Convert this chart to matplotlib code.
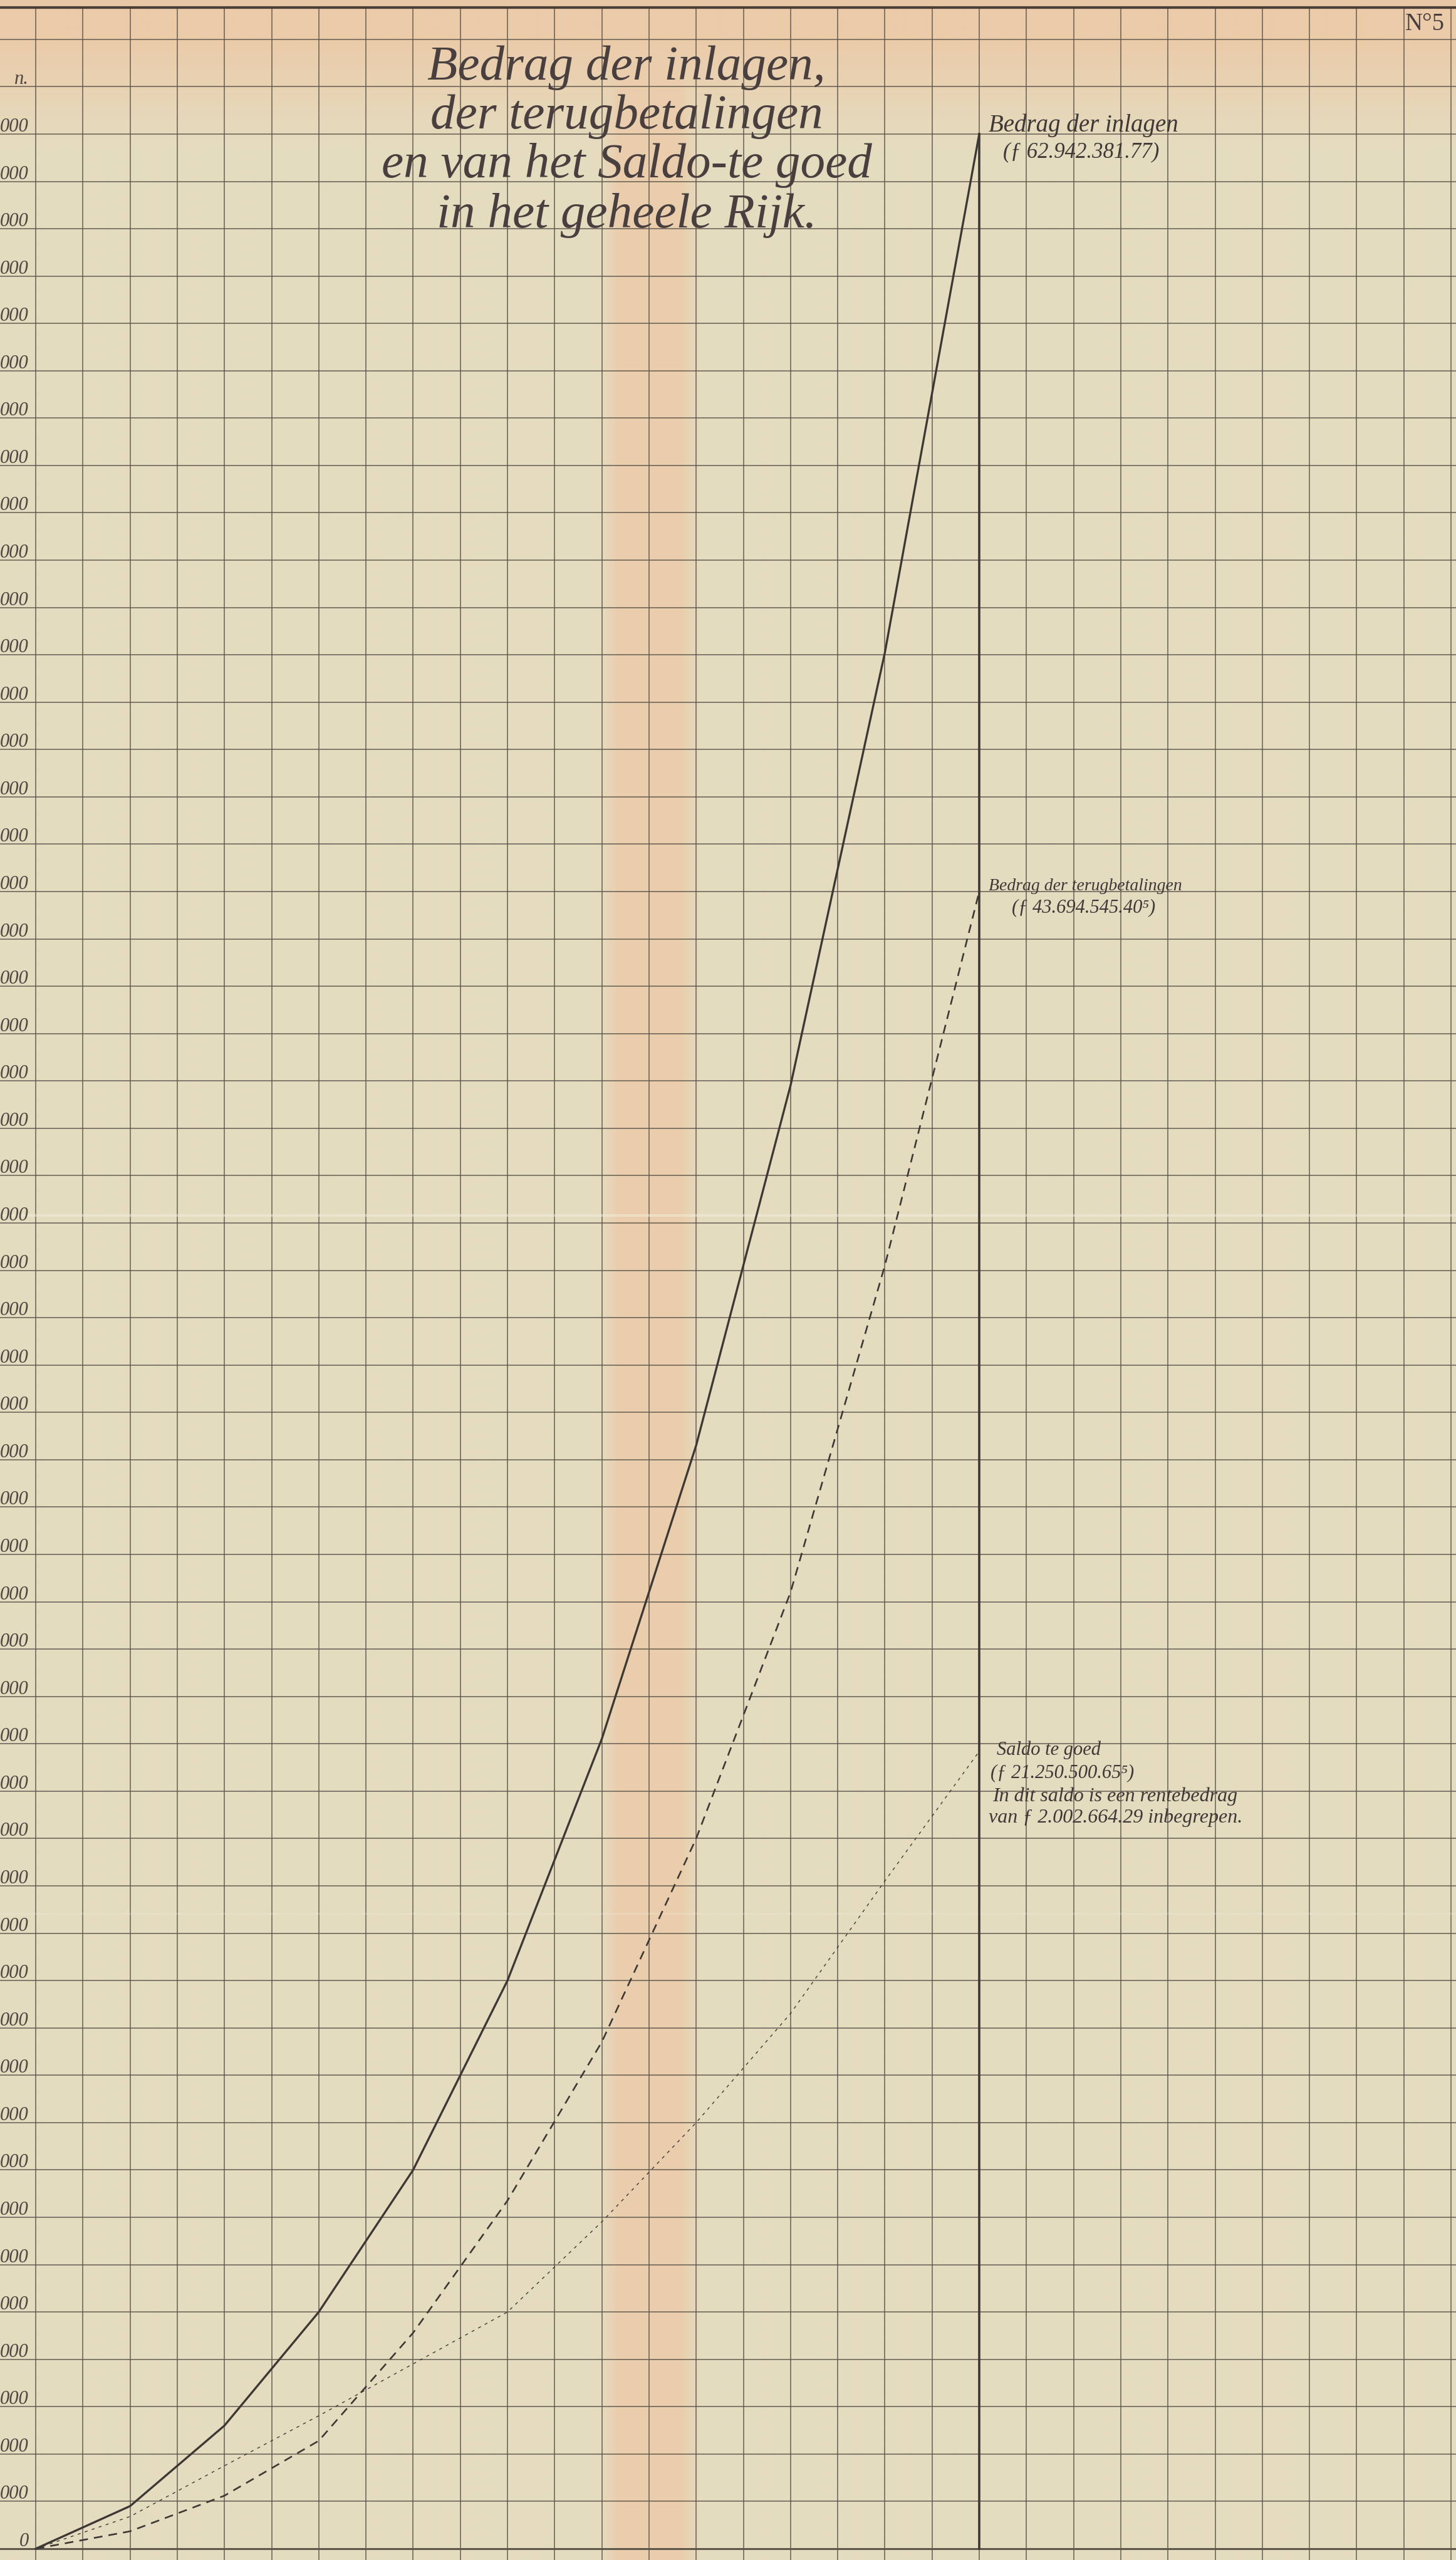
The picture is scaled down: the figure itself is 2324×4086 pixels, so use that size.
import numpy as np
import matplotlib
matplotlib.use('Agg')
import matplotlib.pyplot as plt
import matplotlib.transforms as mtransforms

jaren = [1881, 1882, 1883, 1884, 1885, 1886, 1887, 1888, 1889, 1890, 1891]
inlagen = [0, 1125000, 3250000, 6250000, 10000000, 15000000,
           21380000, 29130000, 38630000, 50060000, 63750000]
terugbetalingen = [0, 460000, 1400000, 2850000, 5700000, 9190000,
                   13380000, 18750000, 25250000, 33880000, 43750000]
saldo = [0, 850000, 2190000, 3510000, 4880000, 6250000,
         8630000, 11250000, 14130000, 17630000, 21050000]

stap = 1250000
n_rijen = 53          # horizontale lijnen 0..53
n_kolommen = 30       # verticale lijnen per half jaar

# only the right end of the scale labels is left on the cut sheet
schaal_labels = ['0'] + ['000'] * 51 + ['n.']

titel = ["Bedrag der inlagen,", "der terugbetalingen",
         "en van het Saldo-te goed", "in het geheele Rijk."]

# colours of the old paper
papier = '#E5DCC0'
roze = '#EBCBA9'
lijnkleur = '#5E554B'
inkt = '#3E3834'

W, H = 2324, 4086
fig = plt.figure(figsize=(W / 100, H / 100), dpi=100, facecolor='#E8C8A4')
ax = fig.add_axes([0, 0, 1, (H - 12) / H])

# axis limits chosen so one cell is ~75 px
x_links = jaren[0] - (57 / 75.3) * 0.5
x_rechts = jaren[0] + ((W - 57) / 75.3) * 0.5
y_onder = -(H - 4068) / 75.57 * stap
y_boven = (4068 - 12) / 75.57 * stap
ax.set_xlim(x_links, x_rechts)
ax.set_ylim(y_onder, y_boven)

# background: beige paper, pink stripe and pink top edge
yy, xx = np.mgrid[12:H:6, 0:W:6].astype(float)
w_strook = np.clip(1 - (np.abs(xx - 1036) - 50) / 30, 0, 1) * 0.85
w_top = np.clip((230 - yy) / 170, 0, 1)
w = np.maximum(w_strook, w_top)[..., None]
c0 = np.array(matplotlib.colors.to_rgb(papier))
c1 = np.array(matplotlib.colors.to_rgb(roze))
bg = c0 * (1 - w) + c1 * w
ax.imshow(bg, extent=(x_links, x_rechts, y_onder, y_boven), origin='upper',
          aspect='auto', interpolation='bilinear', zorder=0)

# the grid
ax.set_xticks(np.arange(jaren[0], jaren[0] + n_kolommen / 2 + 0.01, 0.5))
ax.set_yticks(np.arange(0, n_rijen + 1) * stap)
ax.grid(True, color=lijnkleur, linewidth=1.15, alpha=0.9)
ax.set_axisbelow(True)
ax.tick_params(length=0, labelbottom=False, labelleft=False)
for kant in ['left', 'right', 'bottom']:
    ax.spines[kant].set_visible(False)
ax.spines['top'].set_linewidth(3.0)
ax.spines['top'].set_color('#4a4038')
ax.axhline(0, color=lijnkleur, linewidth=2.2, zorder=1)

# paper fold
ax.axhline(28.16 * stap, color='#F4EEDC', linewidth=3, alpha=0.5, zorder=0.6)
ax.axhline(13.42 * stap, color='#F4EEDC', linewidth=2, alpha=0.25, zorder=0.6)

# the three curves
plt.rcParams['lines.scale_dashes'] = False
ax.plot(jaren, inlagen, color=inkt, linewidth=2.4, zorder=3)
ax.plot(jaren, terugbetalingen, color=inkt, linewidth=1.9,
        dashes=(10, 7), zorder=3)
ax.plot(jaren, saldo, color=inkt, linewidth=1.0, dashes=(3.5, 5), zorder=3)
ax.plot([jaren[-1], jaren[-1]], [0, inlagen[-1]], color=inkt,
        linewidth=2.6, zorder=3)

serif = ['Liberation Serif', 'DejaVu Serif']

# scale labels at the left edge
trans = mtransforms.offset_copy(ax.get_yaxis_transform(), fig=fig, y=4, units='dots')
for k, label in enumerate(schaal_labels):
    ax.text(46 / W, k * stap, label, transform=trans, ha='right', va='baseline',
            fontsize=22, family=serif, style='italic', color='#4f4741')

# title
for i, regel in enumerate(titel):
    fig.text(1000 / W, 1 - [127, 205, 283, 363][i] / H, regel, ha='center',
             va='baseline', fontsize=57, family=serif, style='italic',
             color='#4a3f3f')

fig.text(2243 / W, 1 - 48 / H, 'N°5', ha='left', va='baseline', fontsize=28,
         family=serif, color='#4a3f3f')

# notes next to the end points
def noot(y, tekst, dx, dy, grootte):
    ax.annotate(tekst, xy=(jaren[-1], y), xytext=(dx, dy), textcoords='offset pixels',
                ha='left', va='baseline', fontsize=grootte, family=serif,
                style='italic', color='#3f3836', zorder=4)

noot(inlagen[-1], 'Bedrag der inlagen', 15, 4, 28)
noot(inlagen[-1], '(ƒ 62.942.381.77)', 38, -37, 25)
noot(terugbetalingen[-1], 'Bedrag der terugbetalingen', 15, 2, 20)
noot(terugbetalingen[-1], '(ƒ 43.694.545.40⁵)', 52, -33, 22)
noot(saldo[-1], 'Saldo te goed', 28, -6, 22)
noot(saldo[-1], '(ƒ 21.250.500.65⁵)', 18, -42, 22)
noot(saldo[-1], 'In dit saldo is een rentebedrag', 21, -80, 23)
noot(saldo[-1], 'van ƒ 2.002.664.29 inbegrepen.', 15, -114, 23)

plt.savefig('out.png', dpi=100, facecolor=fig.get_facecolor())
